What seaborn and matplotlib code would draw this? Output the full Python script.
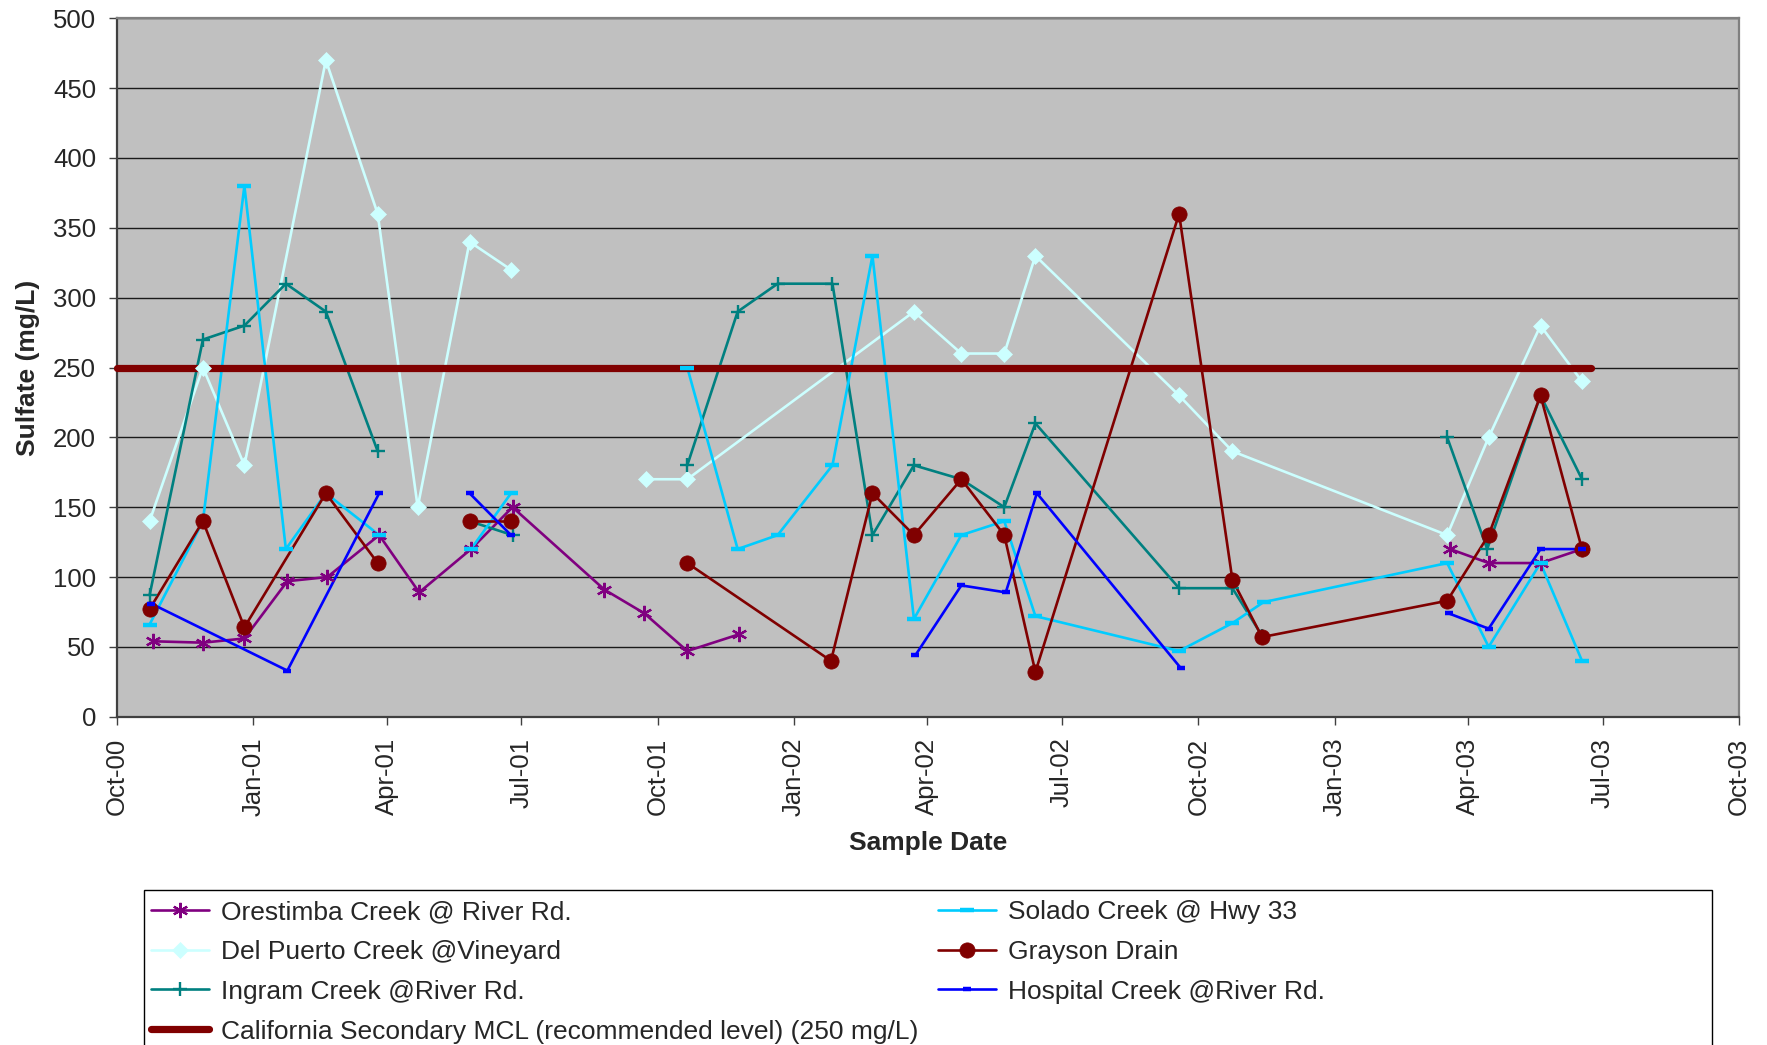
import pandas as pd
import matplotlib
matplotlib.use("Agg")
import matplotlib.pyplot as plt
import matplotlib.dates as mdates
from matplotlib.lines import Line2D
from matplotlib.patches import Rectangle
import seaborn as sns

# ---------------- data (None marks a break in the line) ----------------
orestimba_dates = ["2000-10-25", "2000-11-28", "2000-12-26", "2001-01-24", "2001-02-20", "2001-03-27",
                   "2001-04-23", "2001-05-28", "2001-06-25", "2001-08-26", "2001-09-22", "2001-10-21",
                   "2001-11-25", None, "2003-03-20", "2003-04-15", "2003-05-20", "2003-06-17"]
orestimba_vals = [54, 53, 56, 97, 100, 130, 89, 120, 150, 91, 74, 47, 59, None, 120, 110, 110, 120]

delpuerto_dates = ["2000-10-23", "2000-11-28", "2000-12-26", "2001-02-19", "2001-03-26", "2001-04-22",
                   "2001-05-27", "2001-06-24", None, "2001-09-23", "2001-10-21", "2002-03-23",
                   "2002-04-24", "2002-05-23", "2002-06-13", "2002-09-18", "2002-10-24", "2003-03-18",
                   "2003-04-15", "2003-05-20", "2003-06-17"]
delpuerto_vals = [140, 250, 180, 470, 360, 150, 340, 320, None, 170, 170, 290, 260, 260, 330, 230, 190,
                  130, 200, 280, 240]

ingram_dates = ["2000-10-23", "2000-11-28", "2000-12-26", "2001-01-23", "2001-02-19", "2001-03-26", None,
                "2001-05-27", "2001-06-25", None, "2001-10-21", "2001-11-24", "2001-12-21", "2002-01-27",
                "2002-02-23", "2002-03-23", "2002-04-24", "2002-05-23", "2002-06-13", "2002-09-18",
                "2002-10-24", "2002-11-13", None, "2003-03-18", "2003-04-14", "2003-05-20", "2003-06-17"]
ingram_vals = [87, 270, 280, 310, 290, 190, None, 140, 130, None, 180, 290, 310, 310, 130, 180, 170, 150,
               210, 92, 92, 58, None, 200, 120, 230, 170]

solado_dates = ["2000-10-23", "2000-11-28", "2000-12-26", "2001-01-23", "2001-02-19", "2001-03-27", None,
                "2001-05-28", "2001-06-24", None, "2001-10-21", "2001-11-24", "2001-12-21", "2002-01-27",
                "2002-02-23", "2002-03-23", "2002-04-24", "2002-05-23", "2002-06-13", "2002-09-18",
                "2002-10-24", "2002-11-14", "2003-03-18", "2003-04-15", "2003-05-20", "2003-06-17"]
solado_vals = [66, 140, 380, 120, 160, 130, None, 120, 160, None, 250, 120, 130, 180, 330, 70, 130, 140,
               72, 47, 67, 82, 110, 50, 110, 40]

grayson_dates = ["2000-10-23", "2000-11-28", "2000-12-26", "2001-02-19", "2001-03-26", None,
                 "2001-05-27", "2001-06-24", None, "2001-10-21", "2002-01-26", "2002-02-23", "2002-03-23",
                 "2002-04-24", "2002-05-23", "2002-06-13", "2002-09-18", "2002-10-24", "2002-11-13",
                 "2003-03-18", "2003-04-15", "2003-05-20", "2003-06-17"]
grayson_vals = [77, 140, 64, 160, 110, None, 140, 140, None, 110, 40, 160, 130, 170, 130, 32, 360, 98, 57,
                83, 130, 230, 120]

hospital_dates = ["2000-10-24", "2001-01-24", "2001-03-27", None, "2001-05-27", "2001-06-24", None,
                  "2002-03-24", "2002-04-24", "2002-05-24", "2002-06-14", "2002-09-19", None,
                  "2003-03-19", "2003-04-15", "2003-05-20", "2003-06-17"]
hospital_vals = [81, 33, 160, None, 160, 130, None, 44, 94, 89, 160, 35, None, 74, 63, 120, 120]

mcl_dates = ["2000-10-01", "2003-06-23"]
mcl_vals = [250, 250]

xtick_dates = ["2000-10-01", "2001-01-01", "2001-04-01", "2001-07-01", "2001-10-01", "2002-01-01",
               "2002-04-01", "2002-07-01", "2002-10-01", "2003-01-01", "2003-04-01", "2003-07-01",
               "2003-10-01"]
xtick_labels = ["Oct-00", "Jan-01", "Apr-01", "Jul-01", "Oct-01", "Jan-02", "Apr-02", "Jul-02",
                "Oct-02", "Jan-03", "Apr-03", "Jul-03", "Oct-03"]
ytick_vals = [0, 50, 100, 150, 200, 250, 300, 350, 400, 450, 500]

names = ["Orestimba Creek @ River Rd.", "Del Puerto Creek @Vineyard", "Ingram Creek @River Rd.",
         "Solado Creek @ Hwy 33", "Grayson Drain", "Hospital Creek @River Rd.",
         "California Secondary MCL (recommended level) (250 mg/L)"]

# ---------------- styling ----------------
sns.set_style("white")
plt.rcParams['font.family'] = ['Liberation Sans', 'DejaVu Sans']

W, H = 1767, 1045
fig = plt.figure(figsize=(W / 100, H / 100), dpi=100)
L, R, T, B = 117, 1739, 18.3, 716.7
ax = fig.add_axes([L / W, 1 - B / H, (R - L) / W, (B - T) / H])
ax.set_facecolor('#C0C0C0')


def to_frame(dates, vals):
    rows, seg = [], 0
    for d, v in zip(dates, vals):
        if d is None:
            seg += 1
            continue
        rows.append((pd.Timestamp(d), v, seg))
    return pd.DataFrame(rows, columns=['date', 'value', 'seg'])


series = [
    # name, dates, vals, color, marker, ms, mew, mfc
    (names[0], orestimba_dates, orestimba_vals, '#800080', (6, 2, 0), 11, 1.6, '#800080'),
    (names[1], delpuerto_dates, delpuerto_vals, '#CCFFFF', 'D', 8.5, 0.5, '#CCFFFF'),
    (names[2], ingram_dates, ingram_vals, '#008080', '+', 10.5, 1.7, '#008080'),
    (names[3], solado_dates, solado_vals, '#00CCFF', '_', 10.5, 3.2, '#00CCFF'),
    (names[4], grayson_dates, grayson_vals, '#800000', 'o', 11, 0.5, '#800000'),
    (names[5], hospital_dates, hospital_vals, '#0000FF', '_', 5.5, 3.2, '#0000FF'),
]

LW = 1.9
# lines
for name, d, v, c, m, ms, mew, mfc in series:
    df = to_frame(d, v)
    sns.lineplot(data=df, x='date', y='value', units='seg', estimator=None, sort=False,
                 color=c, lw=LW, ax=ax, legend=False, zorder=2)

# MCL line
n_before = len(ax.lines)
mcl_df = to_frame(mcl_dates, mcl_vals)
sns.lineplot(data=mcl_df, x='date', y='value', color='#800000', lw=5.2, ax=ax, legend=False,
             zorder=3, solid_capstyle='round')
for ln in ax.lines[n_before:]:
    ln.set_clip_on(False)

# markers
for name, d, v, c, m, ms, mew, mfc in series:
    df = to_frame(d, v)
    sns.lineplot(data=df, x='date', y='value', units='seg', estimator=None, sort=False,
                 color=c, lw=0, marker=m, markersize=ms, markeredgewidth=mew,
                 markerfacecolor=mfc, markeredgecolor=c, ax=ax, legend=False, zorder=4)

# axes
ax.set_xlim(pd.Timestamp("2000-10-01"), pd.Timestamp("2003-10-01"))
ax.set_ylim(0, 500)
ax.set_xticks([mdates.date2num(pd.Timestamp(d)) for d in xtick_dates])
ax.set_xticklabels(xtick_labels, rotation=90, fontsize=18.5)
ax.set_yticks(ytick_vals)
ax.set_yticklabels([str(v) for v in ytick_vals], fontsize=18.5)
ax.tick_params(axis='both', direction='out', length=6, width=1.0, color='#404040', pad=9,
               bottom=True, left=True)
ax.yaxis.grid(True, color='#1a1a1a', lw=1.0, zorder=1)
ax.xaxis.grid(False)
ax.set_axisbelow(True)
for side in ['left', 'bottom']:
    ax.spines[side].set_color('#404040')
    ax.spines[side].set_linewidth(1.6)
for side in ['top', 'right']:
    ax.spines[side].set_color('#808080')
    ax.spines[side].set_linewidth(1.6)
    ax.spines[side].set_visible(True)

ax.set_xlabel('Sample Date', fontsize=19, fontweight='bold')
ax.set_ylabel('Sulfate (mg/L)', fontsize=19, fontweight='bold')
ax.xaxis.set_label_coords(0.5, (B - 831) / (B - T))
ax.yaxis.set_label_coords((40 - L) / (R - L), 0.5)

# legend
def proxy(c, m, ms, mew, mfc):
    return Line2D([], [], color=c, lw=LW, marker=m, markersize=ms, markeredgewidth=mew,
                  markerfacecolor=mfc, markeredgecolor=c)

h = [proxy(*s[3:]) for s in series]
mcl_h = Line2D([], [], color='#800000', lw=5.2, solid_capstyle='round')
handles = [h[0], h[1], h[2], mcl_h, h[3], h[4], h[5]]
labels = [names[0], names[1], names[2], names[6], names[3], names[4], names[5]]
leg = fig.legend(handles, labels, ncol=2, loc='upper left',
                 bbox_to_anchor=(151 / W, 1 - 900 / H), bbox_transform=fig.transFigure,
                 frameon=False, fontsize=19, handlelength=2.2, handletextpad=0.45,
                 labelspacing=0.6, columnspacing=0.73, borderpad=0, borderaxespad=0)

fig.add_artist(Rectangle((144 / W, -0.05), (1712 - 144) / W, (1 - 890 / H) + 0.05,
                         transform=fig.transFigure, facecolor='none', edgecolor='black', lw=1.0))

fig.savefig('out.png', dpi=100)
